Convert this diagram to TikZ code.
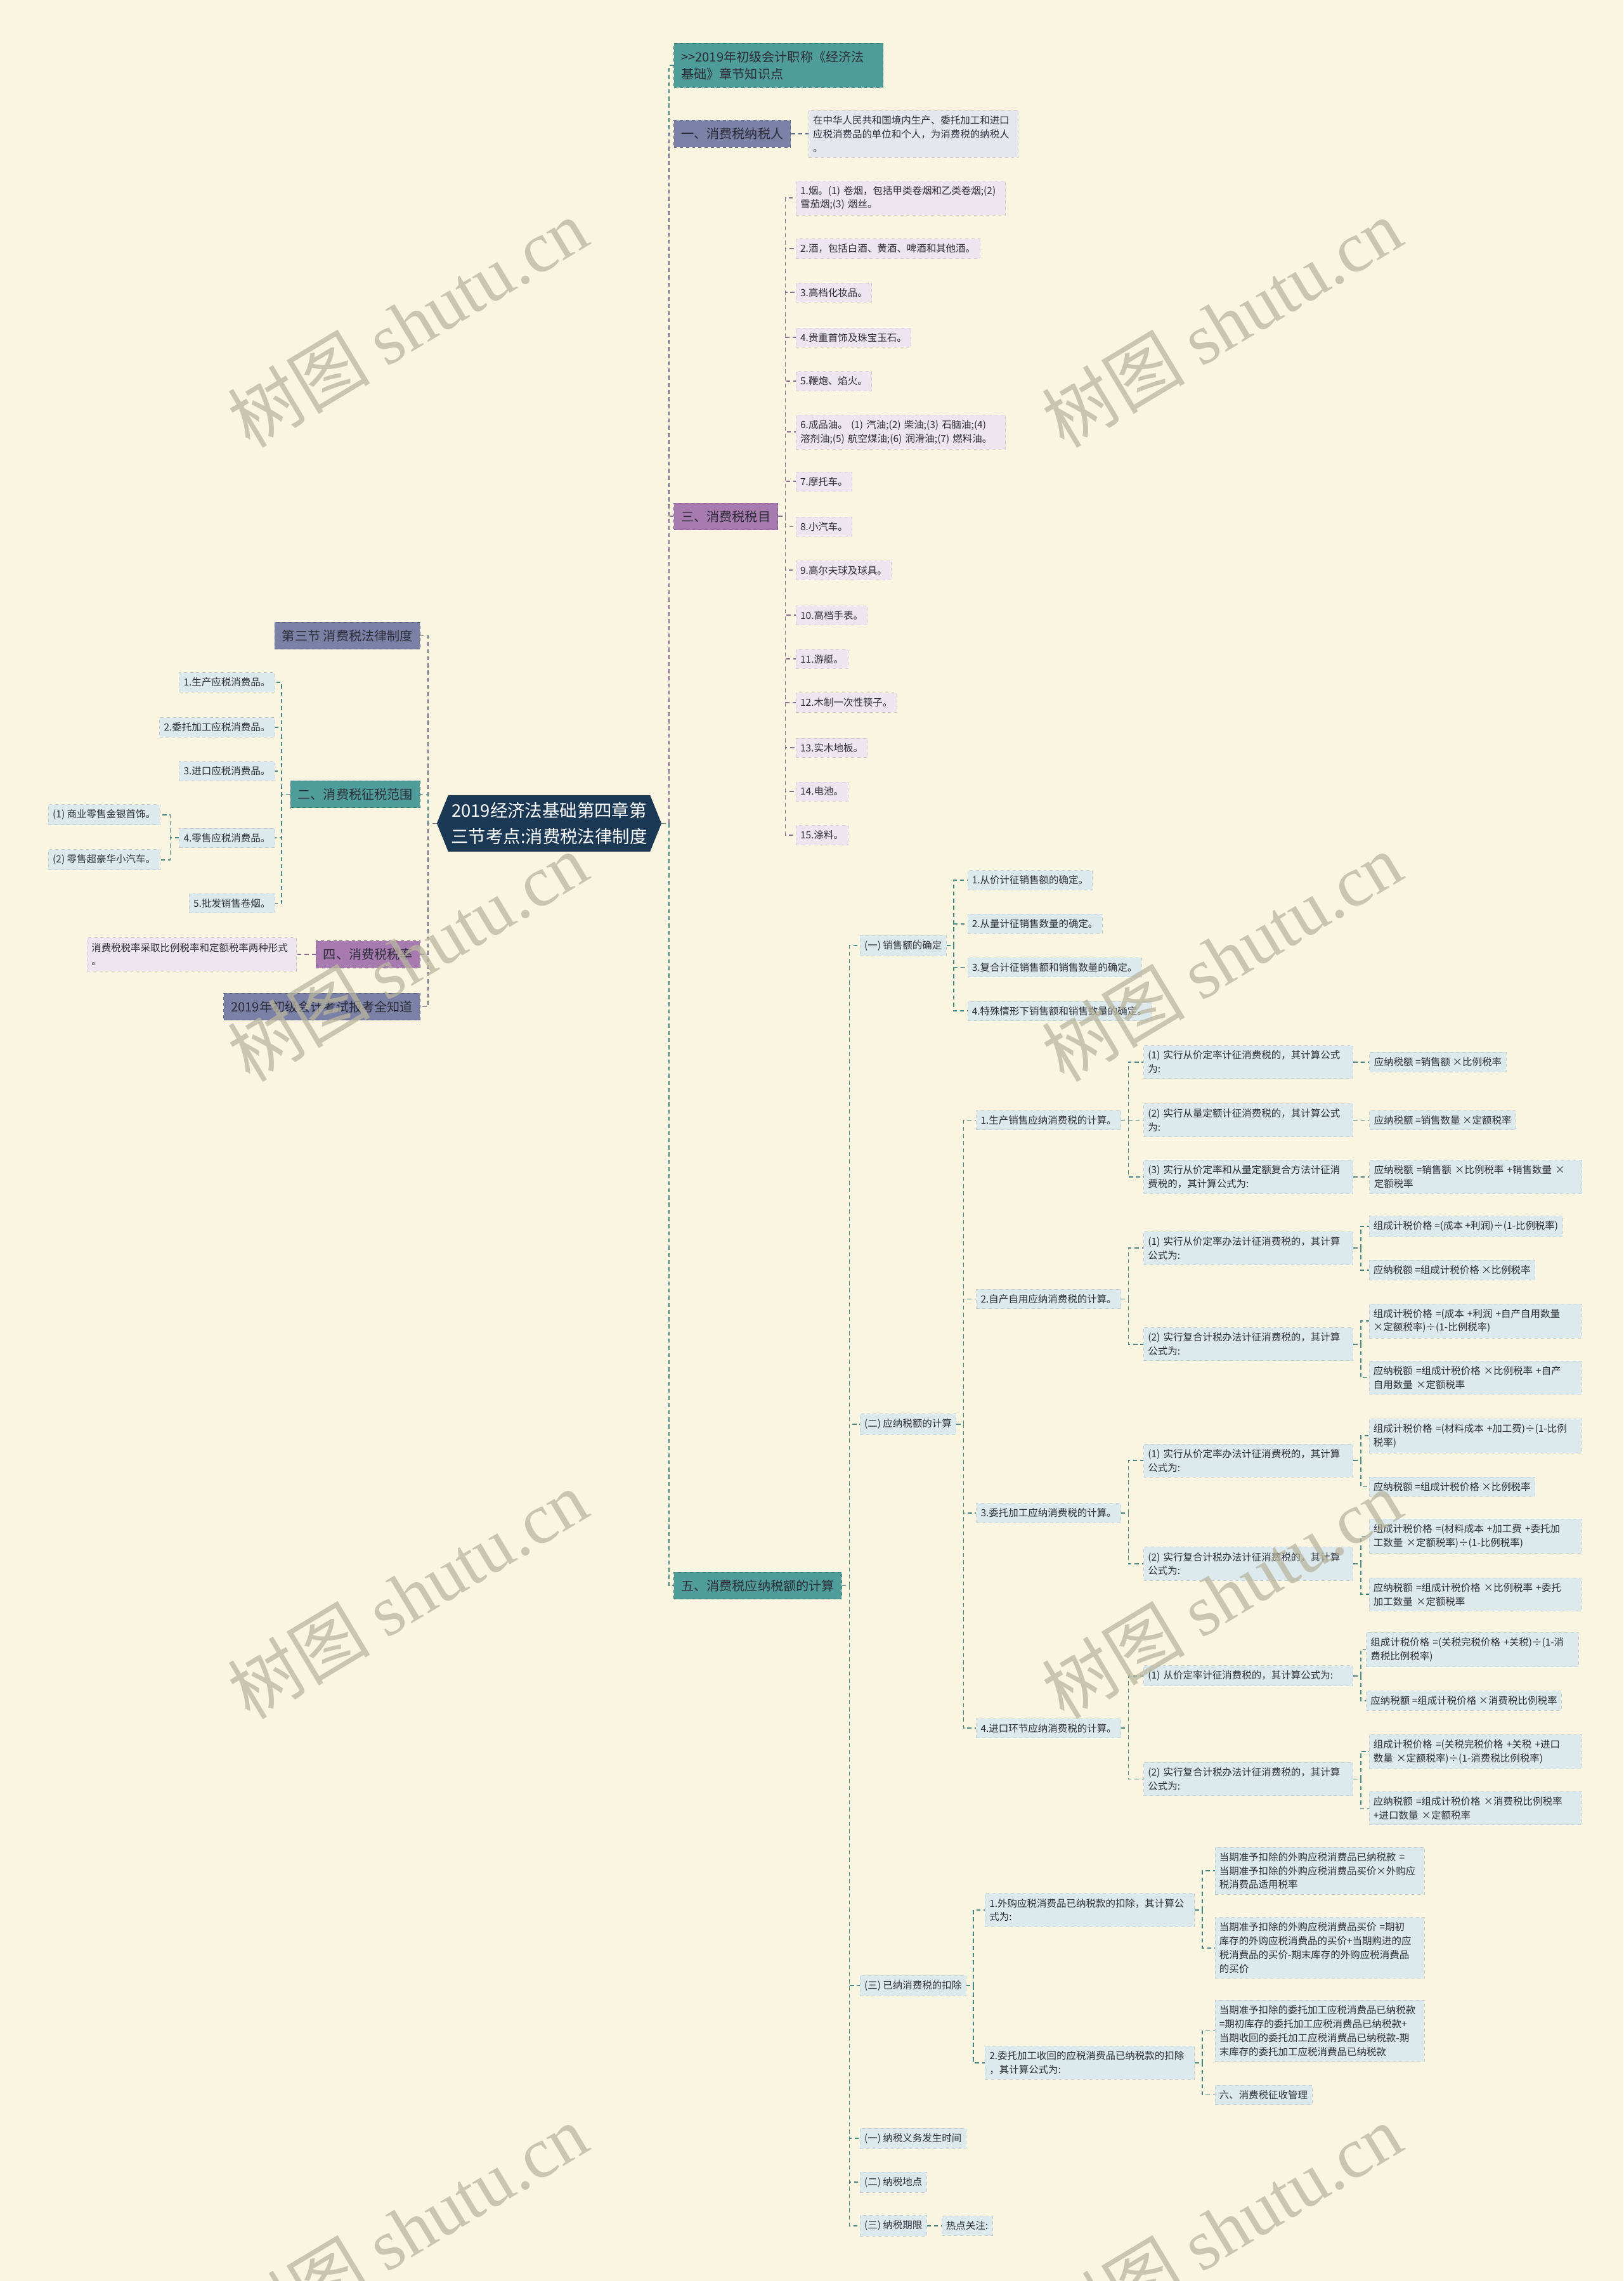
\documentclass[tikz,border=0pt]{standalone}
\usepackage{fontspec}
\setmainfont{Noto Sans CJK SC}
\newfontfamily\wmserif{Liberation Serif}
\usetikzlibrary{positioning,shapes.symbols}
\definecolor{bgc}{RGB}{249,245,225}
\definecolor{rootc}{RGB}{27,56,84}
\definecolor{tealc}{RGB}{78,157,154}
\definecolor{slatec}{RGB}{122,128,166}
\definecolor{purplec}{RGB}{167,123,176}
\definecolor{bluel}{RGB}{220,234,237}
\definecolor{lavl}{RGB}{237,229,240}
\definecolor{grayl}{RGB}{229,231,239}
\definecolor{txt}{RGB}{45,45,55}
\definecolor{tealln}{RGB}{70,135,132}
\definecolor{slateln}{RGB}{105,110,140}
\definecolor{purpln}{RGB}{140,110,148}
\definecolor{wmc}{RGB}{185,181,158}
\tikzset{
  root node/.style={shape=signal,signal to=west and east,signal pointer angle=136,fill=rootc,text=white,
    font=\fontsize{17}{25}\selectfont,align=center,inner xsep=1mm,inner ysep=2.5mm},
  main node/.style={draw=#1!75!black,dashed,line width=0.6pt,fill=#1,text=txt,
    font=\fontsize{12.5}{17}\selectfont,align=left,inner xsep=2.5mm,inner ysep=2.6mm},
  sub node/.style={draw=#1!88!black,dashed,line width=0.5pt,fill=#1,text=txt,
    font=\fontsize{9.6}{13.6}\selectfont,align=left,inner xsep=1.5mm,inner ysep=1.75mm},
  wide/.style={text width=69mm},
  widef/.style={text width=70mm},
  link/.style={draw=#1,line width=1.1pt,dash pattern=on 4pt off 3pt},
  mark text/.style={rotate=31,text=wmc,opacity=.75,font=\fontsize{70}{70}\selectfont},
}
\newcommand{\ed}[3]{\draw[link=#3] (#1.east) -- ++(5,0) |- (#2.west);}
\newcommand{\edl}[3]{\draw[link=#3] (#1.west) -- ++(-6,0) |- (#2.east);}

\begin{document}
\begin{tikzpicture}[x=0.5mm,y=-0.5mm]
  \fill[bgc] (0,0) rectangle (1116,1568);
  \useasboundingbox (0,0) rectangle (1116,1568);

  \node[root node] (root) at (377.5,566) {2019经济法基础第四章第\\三节考点:消费税法律制度};

  \node[main node=tealc,anchor=west,text width=67mm] (hdr) at (463,45) {{>}{>}2019年初级会计职称《经济法\\基础》章节知识点};
  \node[main node=slatec,anchor=west] (nsr) at (463,92) {一、消费税纳税人};
  \node[sub node=grayl,wide] (nsrd) [right=6mm of nsr] {在中华人民共和国境内生产、委托加工和进口\\应税消费品的单位和个人，为消费税的纳税人\\。};

  \node[main node=purplec,anchor=west] (smu) at (463,355) {三、消费税税目};
  \node[sub node=lavl,anchor=west,wide] (s1) at (547,136) {1.烟。(1) 卷烟，包括甲类卷烟和乙类卷烟;(2)\\雪茄烟;(3) 烟丝。};
  \node[sub node=lavl,anchor=west] (s2) at (547,171) {2.酒，包括白酒、黄酒、啤酒和其他酒。};
  \node[sub node=lavl,anchor=west] (s3) at (547,201) {3.高档化妆品。};
  \node[sub node=lavl,anchor=west] (s4) at (547,232) {4.贵重首饰及珠宝玉石。};
  \node[sub node=lavl,anchor=west] (s5) at (547,262) {5.鞭炮、焰火。};
  \node[sub node=lavl,anchor=west,wide] (s6) at (547,297) {6.成品油。 (1) 汽油;(2) 柴油;(3) 石脑油;(4)\\溶剂油;(5) 航空煤油;(6) 润滑油;(7) 燃料油。};
  \node[sub node=lavl,anchor=west] (s7) at (547,331) {7.摩托车。};
  \node[sub node=lavl,anchor=west] (s8) at (547,362) {8.小汽车。};
  \node[sub node=lavl,anchor=west] (s9) at (547,392) {9.高尔夫球及球具。};
  \node[sub node=lavl,anchor=west] (s10) at (547,423) {10.高档手表。};
  \node[sub node=lavl,anchor=west] (s11) at (547,453) {11.游艇。};
  \node[sub node=lavl,anchor=west] (s12) at (547,483) {12.木制一次性筷子。};
  \node[sub node=lavl,anchor=west] (s13) at (547,514) {13.实木地板。};
  \node[sub node=lavl,anchor=west] (s14) at (547,544) {14.电池。};
  \node[sub node=lavl,anchor=west] (s15) at (547,574) {15.涂料。};

  \node[main node=tealc,anchor=west] (jsu) at (463,1090) {五、消费税应纳税额的计算};
  \node[sub node=bluel,anchor=west] (xse) at (591,650) {(一) 销售额的确定};
  \node[sub node=bluel,anchor=west] (xse1) at (665,605) {1.从价计征销售额的确定。};
  \node[sub node=bluel,anchor=west] (xse2) at (665,635) {2.从量计征销售数量的确定。};
  \node[sub node=bluel,anchor=west] (xse3) at (665,665) {3.复合计征销售额和销售数量的确定。};
  \node[sub node=bluel,anchor=west] (xse4) at (665,695) {4.特殊情形下销售额和销售数量的确定。};

  \node[sub node=bluel,anchor=west] (ynse) at (591,979) {(二) 应纳税额的计算};
  \node[sub node=bluel,anchor=west] (sc) at (671,770) {1.生产销售应纳消费税的计算。};
  \node[sub node=bluel,anchor=west,wide] (sc1) at (786,730) {(1) 实行从价定率计征消费税的，其计算公式\\为:};
  \node[sub node=bluel] (sc1f) [right=5.5mm of sc1] {应纳税额 =销售额 ×比例税率};
  \node[sub node=bluel,anchor=west,wide] (sc2) at (786,770) {(2) 实行从量定额计征消费税的，其计算公式\\为:};
  \node[sub node=bluel] (sc2f) [right=5.5mm of sc2] {应纳税额 =销售数量 ×定额税率};
  \node[sub node=bluel,anchor=west,wide] (sc3) at (786,809) {(3) 实行从价定率和从量定额复合方法计征消\\费税的，其计算公式为:};
  \node[sub node=bluel,widef] (sc3f) [right=5.5mm of sc3] {应纳税额 =销售额 ×比例税率 +销售数量 ×\\定额税率};

  \node[sub node=bluel,anchor=west] (zc) at (671,893) {2.自产自用应纳消费税的计算。};
  \node[sub node=bluel,anchor=west,wide] (zc1) at (786,858) {(1) 实行从价定率办法计征消费税的，其计算\\公式为:};
  \node[sub node=bluel,anchor=west] (zc1a) at (941,843) {组成计税价格 =(成本 +利润)÷(1-比例税率)};
  \node[sub node=bluel,anchor=west] (zc1b) at (941,873) {应纳税额 =组成计税价格 ×比例税率};
  \node[sub node=bluel,anchor=west,wide] (zc2) at (786,924) {(2) 实行复合计税办法计征消费税的，其计算\\公式为:};
  \node[sub node=bluel,anchor=west,widef] (zc2a) at (941,908) {组成计税价格 =(成本 +利润 +自产自用数量\\×定额税率)÷(1-比例税率)};
  \node[sub node=bluel,anchor=west,widef] (zc2b) at (941,947) {应纳税额 =组成计税价格 ×比例税率 +自产\\自用数量 ×定额税率};

  \node[sub node=bluel,anchor=west] (wt) at (671,1040) {3.委托加工应纳消费税的计算。};
  \node[sub node=bluel,anchor=west,wide] (wt1) at (786,1004) {(1) 实行从价定率办法计征消费税的，其计算\\公式为:};
  \node[sub node=bluel,anchor=west,widef] (wt1a) at (941,987) {组成计税价格 =(材料成本 +加工费)÷(1-比例\\税率)};
  \node[sub node=bluel,anchor=west] (wt1b) at (941,1022) {应纳税额 =组成计税价格 ×比例税率};
  \node[sub node=bluel,anchor=west,wide] (wt2) at (786,1075) {(2) 实行复合计税办法计征消费税的，其计算\\公式为:};
  \node[sub node=bluel,anchor=west,widef] (wt2a) at (941,1056) {组成计税价格 =(材料成本 +加工费 +委托加\\工数量 ×定额税率)÷(1-比例税率)};
  \node[sub node=bluel,anchor=west,widef] (wt2b) at (941,1096) {应纳税额 =组成计税价格 ×比例税率 +委托\\加工数量 ×定额税率};

  \node[sub node=bluel,anchor=west] (jk) at (671,1188) {4.进口环节应纳消费税的计算。};
  \node[sub node=bluel,anchor=west,wide] (jk1) at (786,1152) {(1) 从价定率计征消费税的，其计算公式为:};
  \node[sub node=bluel,anchor=west,widef] (jk1a) at (939,1134) {组成计税价格 =(关税完税价格 +关税)÷(1-消\\费税比例税率)};
  \node[sub node=bluel,anchor=west] (jk1b) at (939,1169) {应纳税额 =组成计税价格 ×消费税比例税率};
  \node[sub node=bluel,anchor=west,wide] (jk2) at (786,1223) {(2) 实行复合计税办法计征消费税的，其计算\\公式为:};
  \node[sub node=bluel,anchor=west,widef] (jk2a) at (941,1204) {组成计税价格 =(关税完税价格 +关税 +进口\\数量 ×定额税率)÷(1-消费税比例税率)};
  \node[sub node=bluel,anchor=west,widef] (jk2b) at (941,1243) {应纳税额 =组成计税价格 ×消费税比例税率\\+进口数量 ×定额税率};

  \node[sub node=bluel,anchor=west] (kc) at (591,1365) {(三) 已纳消费税的扣除};
  \node[sub node=bluel,anchor=west,wide] (kc1) at (677,1313) {1.外购应税消费品已纳税款的扣除，其计算公\\式为:};
  \node[sub node=bluel,anchor=west,wide] (kc1a) at (835,1286) {当期准予扣除的外购应税消费品已纳税款 =\\当期准予扣除的外购应税消费品买价×外购应\\税消费品适用税率};
  \node[sub node=bluel,anchor=west,wide] (kc1b) at (835,1339) {当期准予扣除的外购应税消费品买价 =期初\\库存的外购应税消费品的买价+当期购进的应\\税消费品的买价-期末库存的外购应税消费品\\的买价};
  \node[sub node=bluel,anchor=west,wide] (kc2) at (677,1418) {2.委托加工收回的应税消费品已纳税款的扣除\\，其计算公式为:};
  \node[sub node=bluel,anchor=west,wide] (kc2a) at (835,1396) {当期准予扣除的委托加工应税消费品已纳税款\\=期初库存的委托加工应税消费品已纳税款+\\当期收回的委托加工应税消费品已纳税款-期\\末库存的委托加工应税消费品已纳税款};
  \node[sub node=bluel,anchor=west] (kc2b) at (835,1440) {六、消费税征收管理};

  \node[sub node=bluel,anchor=west] (sj) at (591,1470) {(一) 纳税义务发生时间};
  \node[sub node=bluel,anchor=west] (dd) at (591,1500) {(二) 纳税地点};
  \node[sub node=bluel,anchor=west] (qx) at (591,1530) {(三) 纳税期限};
  \node[sub node=bluel] (rd) [right=5mm of qx] {热点关注:};

  \node[main node=slatec,anchor=east] (jie) at (289,437) {第三节 消费税法律制度};
  \node[main node=tealc,anchor=east] (fw) at (289,546) {二、消费税征税范围};
  \node[sub node=bluel,anchor=east] (fw1) at (189,469) {1.生产应税消费品。};
  \node[sub node=bluel,anchor=east] (fw2) at (189,500) {2.委托加工应税消费品。};
  \node[sub node=bluel,anchor=east] (fw3) at (189,530) {3.进口应税消费品。};
  \node[sub node=bluel,anchor=east] (fw4) at (189,576) {4.零售应税消费品。};
  \node[sub node=bluel,anchor=east] (fw4a) at (110,560) {(1) 商业零售金银首饰。};
  \node[sub node=bluel,anchor=east] (fw4b) at (110,591) {(2) 零售超豪华小汽车。};
  \node[sub node=bluel,anchor=east] (fw5) at (189,621) {5.批发销售卷烟。};
  \node[main node=purplec,anchor=east] (sl) at (289,656) {四、消费税税率};
  \node[sub node=lavl,wide] (sld) [left=6.5mm of sl] {消费税税率采取比例税率和定额税率两种形式\\。};
  \node[main node=slatec,anchor=east] (bk) at (289,692) {2019年初级会计考试报考全知道};

  \ed{root}{hdr}{tealln}
  \ed{root}{nsr}{slateln}
  \ed{root}{smu}{purpln}
  \ed{root}{jsu}{tealln}
  \ed{nsr}{nsrd}{slateln}
  \ed{smu}{s1}{purpln}
  \ed{smu}{s2}{purpln}
  \ed{smu}{s3}{purpln}
  \ed{smu}{s4}{purpln}
  \ed{smu}{s5}{purpln}
  \ed{smu}{s6}{purpln}
  \ed{smu}{s7}{purpln}
  \ed{smu}{s8}{purpln}
  \ed{smu}{s9}{purpln}
  \ed{smu}{s10}{purpln}
  \ed{smu}{s11}{purpln}
  \ed{smu}{s12}{purpln}
  \ed{smu}{s13}{purpln}
  \ed{smu}{s14}{purpln}
  \ed{smu}{s15}{purpln}
  \ed{jsu}{xse}{tealln}
  \ed{jsu}{ynse}{tealln}
  \ed{jsu}{kc}{tealln}
  \ed{jsu}{sj}{tealln}
  \ed{jsu}{dd}{tealln}
  \ed{jsu}{qx}{tealln}
  \ed{xse}{xse1}{tealln}
  \ed{xse}{xse2}{tealln}
  \ed{xse}{xse3}{tealln}
  \ed{xse}{xse4}{tealln}
  \ed{ynse}{sc}{tealln}
  \ed{ynse}{zc}{tealln}
  \ed{ynse}{wt}{tealln}
  \ed{ynse}{jk}{tealln}
  \ed{sc}{sc1}{tealln}
  \ed{sc}{sc2}{tealln}
  \ed{sc}{sc3}{tealln}
  \ed{sc1}{sc1f}{tealln}
  \ed{sc2}{sc2f}{tealln}
  \ed{sc3}{sc3f}{tealln}
  \ed{zc}{zc1}{tealln}
  \ed{zc}{zc2}{tealln}
  \ed{zc1}{zc1a}{tealln}
  \ed{zc1}{zc1b}{tealln}
  \ed{zc2}{zc2a}{tealln}
  \ed{zc2}{zc2b}{tealln}
  \ed{wt}{wt1}{tealln}
  \ed{wt}{wt2}{tealln}
  \ed{wt1}{wt1a}{tealln}
  \ed{wt1}{wt1b}{tealln}
  \ed{wt2}{wt2a}{tealln}
  \ed{wt2}{wt2b}{tealln}
  \ed{jk}{jk1}{tealln}
  \ed{jk}{jk2}{tealln}
  \ed{jk1}{jk1a}{tealln}
  \ed{jk1}{jk1b}{tealln}
  \ed{jk2}{jk2a}{tealln}
  \ed{jk2}{jk2b}{tealln}
  \ed{kc}{kc1}{tealln}
  \ed{kc}{kc2}{tealln}
  \ed{kc1}{kc1a}{tealln}
  \ed{kc1}{kc1b}{tealln}
  \ed{kc2}{kc2a}{tealln}
  \ed{kc2}{kc2b}{tealln}
  \ed{qx}{rd}{tealln}
  \edl{root}{jie}{slateln}
  \edl{root}{fw}{tealln}
  \edl{root}{sl}{purpln}
  \edl{root}{bk}{slateln}
  \edl{fw}{fw1}{tealln}
  \edl{fw}{fw2}{tealln}
  \edl{fw}{fw3}{tealln}
  \edl{fw}{fw4}{tealln}
  \edl{fw}{fw5}{tealln}
  \edl{fw4}{fw4a}{tealln}
  \edl{fw4}{fw4b}{tealln}
  \edl{sl}{sld}{purpln}

  \node[mark text] (wm1) at (280,222) {树图 {\wmserif shutu.cn}};
  \node[mark text] (wm2) at (840,222) {树图 {\wmserif shutu.cn}};
  \node[mark text] (wm3) at (280,658) {树图 {\wmserif shutu.cn}};
  \node[mark text] (wm4) at (840,658) {树图 {\wmserif shutu.cn}};
  \node[mark text] (wm5) at (280,1096) {树图 {\wmserif shutu.cn}};
  \node[mark text] (wm6) at (840,1096) {树图 {\wmserif shutu.cn}};
  \node[mark text] (wm7) at (280,1532) {树图 {\wmserif shutu.cn}};
  \node[mark text] (wm8) at (840,1532) {树图 {\wmserif shutu.cn}};
\end{tikzpicture}
\end{document}
